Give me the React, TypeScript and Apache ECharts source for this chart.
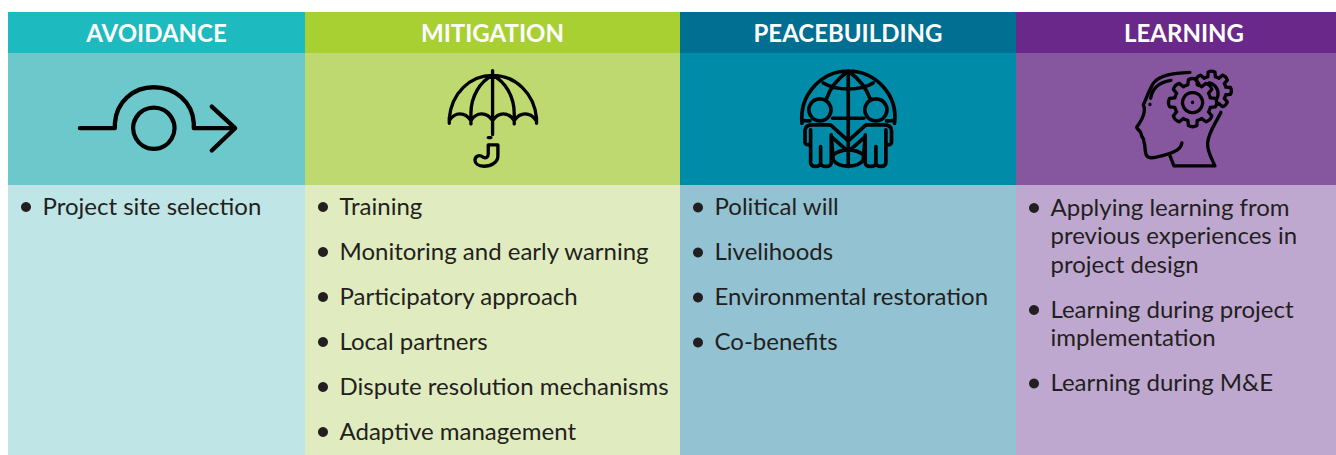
import React, { useEffect, useRef } from "react";
import * as echarts from "echarts";

const headers = ["AVOIDANCE", "MITIGATION", "PEACEBUILDING", "LEARNING"];
const avoidanceItems = [["Project site selection"]];
const mitigationItems = [
  ["Training"],
  ["Monitoring and early warning"],
  ["Participatory approach"],
  ["Local partners"],
  ["Dispute resolution mechanisms"],
  ["Adaptive management"],
];
const peacebuildingItems = [
  ["Political will"],
  ["Livelihoods"],
  ["Environmental restoration"],
  ["Co-benefits"],
];
const learningItems = [
  ["Applying learning from", "previous experiences in", "project design"],
  ["Learning during project", "implementation"],
  ["Learning during M&E"],
];
const itemLists = [avoidanceItems, mitigationItems, peacebuildingItems, learningItems];

const headerColors = ["#1DBBC0", "#A8D033", "#006F91", "#6A298A"];
const bandColors = ["#6CC8CA", "#BDD96F", "#008BA8", "#86569F"];
const bodyColors = ["#BFE5E6", "#E0ECBF", "#93C3D3", "#BFA8D0"];
const columnEdges = [8, 305, 680, 1016, 1336];
const headerCenters = [156.5, 492.5, 848, 1184];
const bulletXs = [26, 323, 698, 1034];
const textXs = [42.5, 339.5, 714.5, 1050.5];
const firstLineYs = [207, 207, 207.5, 208];

const TOP = 12, BAND = 53, BODY = 185, BOTTOM = 455;
const LINE = 28.5, GAP = 45, TEXT_SHIFT = -2;
const INK = "#231F20";
const FONT = "Lato";

function gearPath(cx: number, cy: number, ro: number, ri: number, teeth: number, from: number, to: number, closed: boolean) {
  const pt = (r: number, a: number) => {
    const t = (a * Math.PI) / 180;
    return `${(cx + r * Math.cos(t)).toFixed(1)},${(cy + r * Math.sin(t)).toFixed(1)}`;
  };
  const step = 360 / teeth;
  let d = "";
  let a = from;
  let first = true;
  while (a < to - 0.01) {
    const p = [a, a + step * 0.17, a + step * 0.27, a + step * 0.5, a + step * 0.73, a + step * 0.83, a + step];
    if (first) {
      d += closed ? `M${pt(ri, p[0])} Q${pt(ri * 1.02, (p[0] + p[1]) / 2)} ${pt(ri, p[1])} ` : `M${pt(ri, p[1])} `;
      first = false;
    } else {
      d += `Q${pt(ri * 1.02, (p[0] + p[1]) / 2)} ${pt(ri, p[1])} `;
    }
    d += `L${pt(ro * 0.96, p[2])} `;
    d += `Q${pt(ro * 1.04, p[3])} ${pt(ro * 0.96, p[4])} `;
    d += `L${pt(ri, p[5])} `;
    d += `Q${pt(ri * 1.02, (p[5] + p[6]) / 2)} ${pt(ri, p[6])} `;
    a += step;
  }
  return d + (closed ? "Z " : "");
}

const avoidIcon =
  "M240,385 L345,385 L345,370 C350,305 400,262 462,262 C525,262 578,305 582,370 L582,385 L705,385 " +
  "M636,320 L706,385 L636,452 " +
  "M462,323 A62,62 0 1 1 461.9,323 Z";

const umbrellaIcon =
  "M148,220 L148,205 C155,130 210,76 278,76 C346,76 403,130 410,205 L410,220 " +
  "M278,62 L278,254 M265,263 L273,263 " +
  "M148,212 C165,185 195,185 213,212 C230,185 260,185 278,212 C296,185 326,185 343,212 C361,185 391,185 409,212 " +
  "M213,222 L213,190 C213,140 240,95 278,76 C316,95 343,140 343,190 L343,222 " +
  "M265,285 L294,285 L294,318 C294,336 275,349 252,349 C234,349 225,340 225,330 C227,316 240,314 250,322 C258,326 265,322 265,312 Z";

const globeIcon =
  "M96,205 C88,118 155,48 235,48 C315,48 385,118 374,205 " +
  "M235,48 L235,335 " +
  "M188,190 L282,190 " +
  "M235,48 C205,70 182,95 170,130 M235,48 C265,70 288,95 300,130 " +
  "M160,84 C200,108 270,108 310,84 " +
  "M96,196 C105,198 112,198 120,198 M374,196 C365,198 358,198 350,198 " +
  "M190,300 C215,280 255,280 280,300 M190,315 C205,340 265,340 280,315 " +
  "M150,132 A33,33 0 1 1 149.9,132 Z M318,132 A33,33 0 1 1 317.9,132 Z " +
  "M105,262 L105,228 C105,215 115,210 128,210 L182,210 L235,258 L288,210 L342,210 C355,210 365,215 365,228 L365,262 " +
  "M105,262 C107,272 120,272 122,262 M365,262 C363,272 350,272 348,262 " +
  "M122,225 L122,324 C124,338 150,338 152,324 L152,275 M152,324 C154,338 182,338 184,324 L184,240 " +
  "M348,225 L348,324 C346,338 320,338 318,324 L318,275 M318,324 C316,338 288,338 286,324 L286,240 " +
  "M184,245 L235,290 L286,245 M184,245 L190,315 M286,245 L280,315";

const headIcon =
  "M240,52 C190,54 145,60 128,88 C116,108 112,125 100,150 C110,170 96,195 80,217 C85,228 96,230 94,240 " +
  "C96,250 104,250 102,262 C106,270 104,285 108,298 C112,312 130,310 150,304 C175,298 212,290 216,264 " +
  "M180,302 L192,333 L315,333 C305,310 292,290 293,265 C296,230 318,205 333,172 " +
  "M183,76 C155,80 128,95 122,130 M120,148 L120,149 " +
  "M248,113 A30,30 0 1 1 247.9,113 Z M248,142 L248,143 " +
  gearPath(248, 143, 73, 55, 8, -22.5, 337.5, true) +
  gearPath(305, 108, 60, 44, 8, -157.5, 67.5, false) +
  " M298,84 C318,88 330,108 322,130";

echarts.graphic.registerShape("avoidIcon", echarts.graphic.extendPath(avoidIcon, {}));
echarts.graphic.registerShape("umbrellaIcon", echarts.graphic.extendPath(umbrellaIcon, {}));
echarts.graphic.registerShape("globeIcon", echarts.graphic.extendPath(globeIcon, {}));
echarts.graphic.registerShape("headIcon", echarts.graphic.extendPath(headIcon, {}));

const icons = [
  { type: "avoidIcon", x: 0, y: 0, lineWidth: 13 },
  { type: "umbrellaIcon", x: 400, y: 50, lineWidth: 10 },
  { type: "globeIcon", x: 770, y: 55, lineWidth: 11 },
  { type: "headIcon", x: 1110, y: 55, lineWidth: 10 },
];

function buildGraphics() {
  const out: any[] = [];
  headers.forEach((title, i) => {
    const x = columnEdges[i], w = columnEdges[i + 1] - x;
    out.push({ type: "rect", shape: { x, y: TOP, width: w, height: BAND - TOP }, style: { fill: headerColors[i] } });
    out.push({ type: "rect", shape: { x, y: BAND, width: w, height: BODY - BAND }, style: { fill: bandColors[i] } });
    out.push({ type: "rect", shape: { x, y: BODY, width: w, height: BOTTOM - BODY }, style: { fill: bodyColors[i] } });
    out.push({
      type: "text", x: headerCenters[i], y: 32.5,
      style: { text: title, fill: "#fff", font: `700 24px ${FONT}`, align: "center", verticalAlign: "middle" },
    });
    const ic = icons[i];
    out.push({
      type: ic.type, x: ic.x, y: ic.y, scaleX: 1 / 3, scaleY: 1 / 3,
      style: { fill: "none", stroke: "#000", lineWidth: ic.lineWidth, lineCap: "round", lineJoin: "round" },
    });
    let y = firstLineYs[i];
    itemLists[i].forEach((lines) => {
      out.push({ type: "circle", shape: { cx: bulletXs[i], cy: y, r: 5 }, style: { fill: INK } });
      lines.forEach((ln, k) => {
        out.push({
          type: "text", x: textXs[i], y: y + TEXT_SHIFT + k * LINE,
          style: { text: ln, fill: INK, font: `400 24px ${FONT}`, align: "left", verticalAlign: "middle" },
        });
      });
      y += (lines.length - 1) * LINE + GAP;
    });
  });
  return out;
}

export default function App() {
  const ref = useRef<HTMLDivElement>(null);
  useEffect(() => {
    document.body.style.margin = "0";
    const chart = echarts.init(ref.current!, null, { renderer: "svg" });
    chart.setOption({ animation: false, graphic: { elements: buildGraphics() } });
    return () => chart.dispose();
  }, []);
  return <div ref={ref} style={{ width: 1336, height: 455 }} />;
}
